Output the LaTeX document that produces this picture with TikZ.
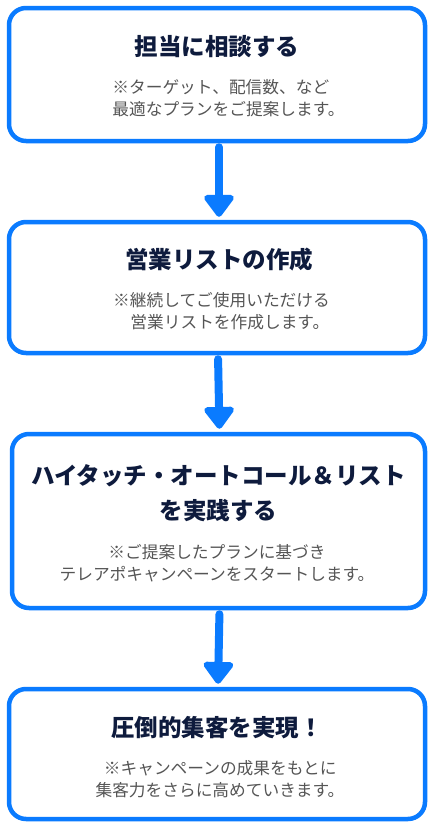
\documentclass[tikz,border=0pt]{standalone}
\usepackage{fontspec}
\setmainfont{Noto Sans CJK JP}
\usetikzlibrary{arrows.meta}
\definecolor{bordo}{HTML}{0A7BFF}
\definecolor{titolo}{HTML}{0E1B3D}
\definecolor{nota}{HTML}{555555}
\tikzset{
  riquadro/.style={draw=bordo, line width=4.5pt, rounded corners=17pt, fill=white,
    minimum width=#1, inner sep=0pt},
  titolo/.style={text=titolo, align=center, font=\fontsize{23.5}{35}\selectfont\bfseries},
  nota/.style={text=nota, align=center, inner sep=0pt, font=\fontsize{16.7}{22}\selectfont},
  freccia/.style={draw=bordo, line width=8pt, line cap=round,
    -{Triangle[width=34pt, length=24pt, round]}, shorten <=4pt, shorten >=3pt}
}
\begin{document}
\begin{tikzpicture}[x=1pt, y=-1pt]
  \useasboundingbox (0,0) rectangle (436,833);
  % Riquadri
  \node[riquadro=416pt, minimum height=133pt] (b1) at (217,74.5) {};
  \node[riquadro=416pt, minimum height=131pt] (b2) at (217,287.5) {};
  \node[riquadro=413pt, minimum height=174pt] (b3) at (218.5,521) {};
  \node[riquadro=416pt, minimum height=130pt] (b4) at (217,754) {};
  % Testi
  \node[titolo] (t1) at (217,47) {担当に相談する};
  \node[nota, align=left] (n1) at (228.5,98.5) {※ターゲット、配信数、など\\最適なプランをご提案します。};
  \node[titolo] (t2) at (219,260) {営業リストの作成};
  \node[nota] (n2) at (221.5,311) {※継続してご使用いただける\\　営業リストを作成します。};
  \node[titolo] (t3) at (218.5,493.5) {ハイタッチ・オートコール＆リスト\\を実践する};
  \node[nota] (n3) at (217,563) {※ご提案したプランに基づき\\テレアポキャンペーンをスタートします。};
  \node[titolo] (t4) at (217,728) {圧倒的集客を実現！};
  \node[nota, align=left] (n4) at (220,779) {\hspace*{0.5em}※キャンペーンの成果をもとに\\集客力をさらに高めていきます。};
  % Frecce
  \draw[freccia] ([xshift=2pt]b1.south) -- ([xshift=2pt]b2.north);
  \draw[freccia] ([xshift=1pt]b2.south) -- ([xshift=1pt]b3.north);
  \draw[freccia] ([xshift=1pt]b3.south) -- ([xshift=1pt]b4.north);
\end{tikzpicture}
\end{document}
